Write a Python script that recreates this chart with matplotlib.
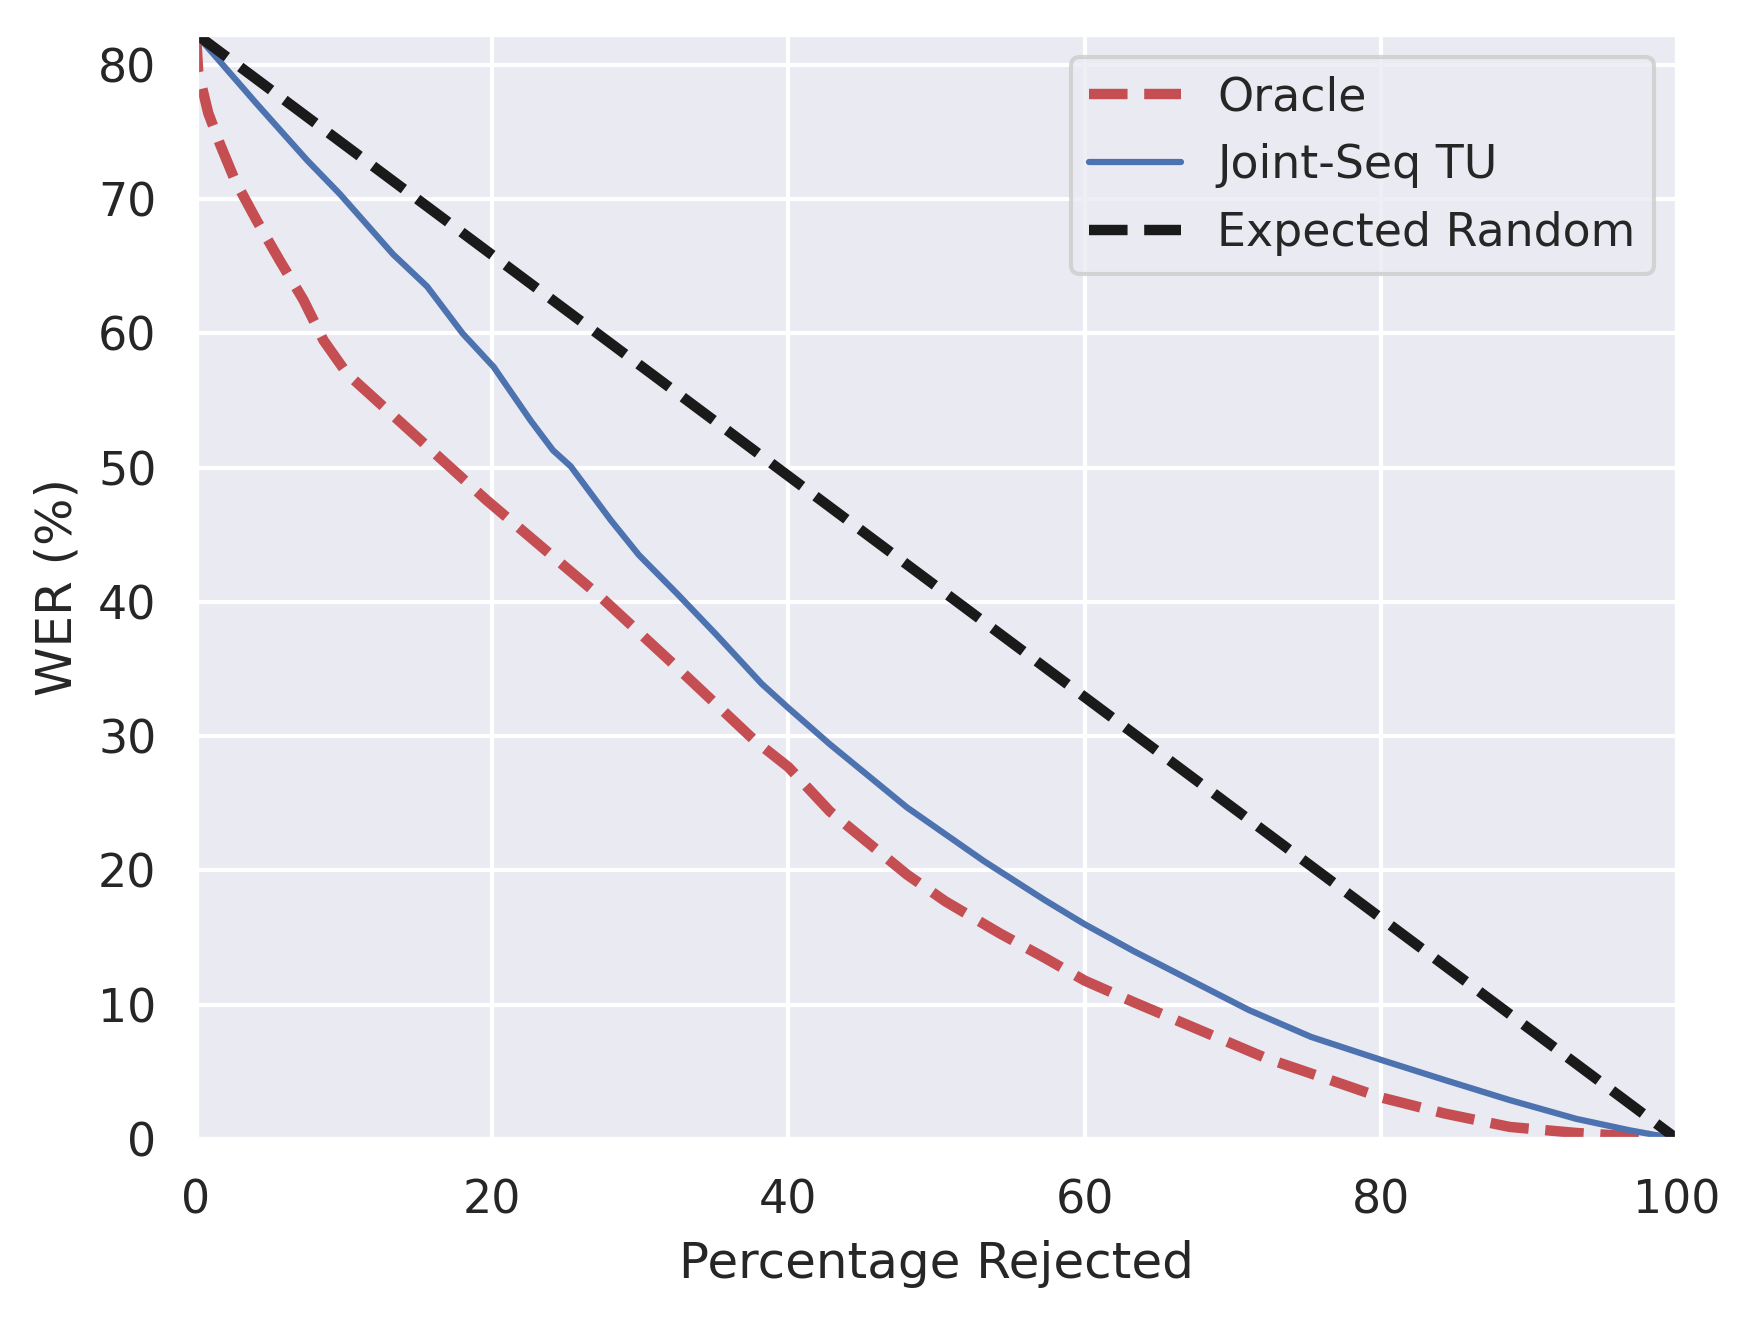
import numpy as np
import matplotlib
matplotlib.use('Agg')
import matplotlib.pyplot as plt
import seaborn as sns

# values
oracle_x = [0, 0.15, 0.83, 1.62, 2.63, 4.1, 5.67, 7.25, 8.6, 10.2, 12.4, 14.7, 16.9, 19.6,
            27.4, 32.5, 37.7, 40.0, 42.8, 48.0, 50.6, 54.3, 57.3, 60.0, 63.3, 67.8, 72.3,
            77.1, 80.0, 84.3, 88.7, 93.2, 97.7, 100]
oracle_y = [82.3, 79.5, 76.4, 74.1, 71.4, 68.4, 65.4, 62.5, 59.5, 57.0, 54.8, 52.5, 50.3, 47.6,
            40.3, 35.1, 29.7, 27.7, 24.4, 19.7, 17.7, 15.3, 13.5, 11.8, 10.2, 8.1, 6.0,
            4.2, 3.1, 1.9, 0.9, 0.45, 0.15, 0.0]

joint_x = [0, 4.1, 7.5, 9.7, 13.3, 15.6, 18.0, 20.1, 22.6, 24.1, 25.3, 28.0, 29.9, 32.5,
           35.1, 38.2, 40.0, 42.8, 48.0, 53.2, 57.3, 60.0, 63.3, 67.2, 71.1, 75.3, 80.0,
           84.3, 88.7, 93.2, 96.8, 100]
joint_y = [82.3, 77.1, 72.9, 70.4, 65.9, 63.5, 60.0, 57.5, 53.5, 51.3, 50.1, 46.1, 43.5, 40.6,
           37.6, 33.9, 32.1, 29.4, 24.7, 20.7, 17.8, 16.0, 14.0, 11.8, 9.6, 7.6, 5.9,
           4.4, 2.9, 1.5, 0.65, 0.0]

random_x = [0, 100]
random_y = [82.3, 0.0]


def main():
    sns.set()
    sns.set_color_codes()
    fig = plt.figure(figsize=(1754 / 300, 1318 / 300), dpi=300)
    ax = fig.add_axes([196 / 1754, 1 - 1139 / 1318, 1481 / 1754, 1105 / 1318])

    ax.plot(oracle_x, oracle_y, 'r--', lw=2.5, label='Oracle')
    ax.plot(joint_x, joint_y, 'b-', lw=1.5, label='Joint-Seq TU')
    ax.plot(random_x, random_y, 'k--', lw=2.5, label='Expected Random')

    ax.set_xlim(0, 100)
    ax.set_ylim(0, 82.3)
    ax.set_xlabel('Percentage Rejected')
    ax.set_ylabel('WER (%)')
    ax.legend(loc='upper right')

    fig.savefig('out.png', dpi=300)


if __name__ == '__main__':
    main()
